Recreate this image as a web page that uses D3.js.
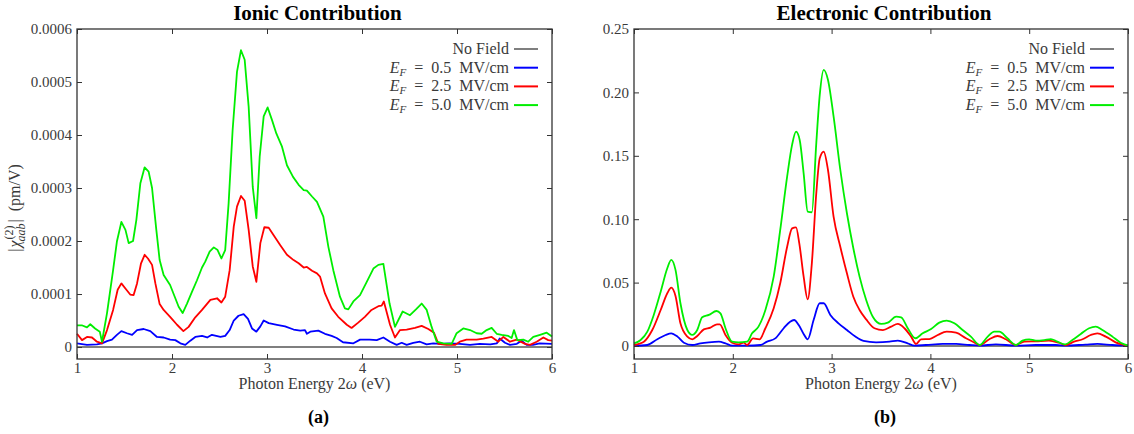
<!DOCTYPE html>
<html>
<head>
<meta charset="utf-8">
<script src="https://cdn.jsdelivr.net/npm/d3@7"></script>
<style>
  body { margin: 0; background: #fff; }
  svg text { font-family: "Liberation Serif", "Times New Roman", Times, "Nimbus Roman", "FreeSerif", "Noto Serif", "DejaVu Serif", serif !important; }
</style>
</head>
<body>
<svg id="chart" width="1134" height="434"></svg>
<script>
// DATA (energies in eV, chi values in pm/V)
const seriesNames = ['No Field', '0.5', '2.5', '5.0'];
const seriesColors = ['#555555', '#0000ff', '#ff0000', '#00ee00'];

// ionic contribution, [eV, value x 1e-6]
const ionicBlue = [[1.0,7],[1.105,4],[1.21,5],[1.263,7],[1.316,11],[1.368,14],[1.42,23],[1.467,30],[1.526,26],[1.58,23],[1.632,32],[1.702,34],[1.772,30],[1.842,19],[1.912,18],[1.98,14],[2.035,13],[2.088,7],[2.14,4],[2.193,12],[2.245,19],[2.316,21],[2.37,18],[2.42,23],[2.51,19],[2.56,21],[2.607,32],[2.65,50],[2.7,59],[2.754,62],[2.8,53],[2.842,35],[2.888,29],[2.93,39],[2.965,50],[3.018,45],[3.105,42],[3.19,39],[3.28,33],[3.35,31],[3.4,32],[3.42,25],[3.456,29],[3.54,31],[3.61,25],[3.68,21],[3.733,17],[3.8,9],[3.91,7],[3.98,14],[4.08,14],[4.155,13],[4.225,18],[4.295,10],[4.365,4],[4.418,8],[4.47,4],[4.54,8],[4.61,10],[4.68,5],[4.75,7],[4.82,6],[4.926,7],[5.03,6],[5.137,4],[5.24,6],[5.35,5],[5.42,7],[5.45,16],[5.505,8],[5.558,4],[5.63,6],[5.68,12],[5.733,4],[5.8,4],[5.87,7],[6.0,6]];
const ionicRed = [[1.0,25],[1.053,13],[1.105,19],[1.158,18],[1.21,10],[1.263,7],[1.316,32],[1.38,70],[1.428,108],[1.467,120],[1.52,108],[1.56,99],[1.596,98],[1.632,120],[1.674,158],[1.712,174],[1.747,167],[1.79,155],[1.825,120],[1.87,81],[1.912,70],[1.98,57],[2.053,42],[2.12,30],[2.175,38],[2.245,56],[2.316,70],[2.404,89],[2.474,92],[2.52,84],[2.56,95],[2.607,145],[2.65,227],[2.684,265],[2.726,285],[2.765,276],[2.807,221],[2.85,152],[2.888,123],[2.93,196],[2.972,226],[3.018,225],[3.07,211],[3.14,192],[3.21,174],[3.28,164],[3.333,158],[3.386,150],[3.42,151],[3.474,144],[3.526,139],[3.558,133],[3.61,101],[3.68,73],[3.75,57],[3.84,42],[3.89,36],[3.96,46],[4.03,57],[4.1,70],[4.172,77],[4.207,78],[4.23,86],[4.295,42],[4.347,18],[4.4,32],[4.47,33],[4.558,36],[4.628,40],[4.698,34],[4.758,27],[4.804,6],[4.89,4],[4.979,4],[5.03,10],[5.1,14],[5.207,14],[5.277,16],[5.365,19],[5.435,10],[5.488,19],[5.558,10],[5.628,14],[5.716,6],[5.768,4],[5.839,10],[5.909,18],[5.96,13],[6.0,12]];
const ionicGreen = [[1.0,41],[1.05,41],[1.105,37],[1.14,43],[1.19,35],[1.24,29],[1.263,10],[1.316,64],[1.38,145],[1.42,199],[1.467,236],[1.51,221],[1.544,196],[1.59,200],[1.625,240],[1.667,309],[1.712,339],[1.754,331],[1.79,300],[1.835,221],[1.87,164],[1.912,136],[1.98,117],[2.035,92],[2.07,76],[2.112,64],[2.158,82],[2.21,104],[2.263,126],[2.316,150],[2.35,161],[2.396,180],[2.44,188],[2.48,183],[2.52,167],[2.56,183],[2.596,271],[2.638,409],[2.684,519],[2.726,560],[2.765,542],[2.807,453],[2.85,302],[2.888,243],[2.923,359],[2.965,435],[3.007,452],[3.053,428],[3.098,403],[3.158,378],[3.21,343],[3.274,321],[3.333,306],[3.386,296],[3.42,295],[3.474,284],[3.526,274],[3.593,246],[3.646,189],[3.698,145],[3.768,95],[3.82,73],[3.856,71],[3.909,86],[3.979,98],[4.05,123],[4.12,148],[4.172,155],[4.225,157],[4.29,82],[4.347,38],[4.383,51],[4.428,67],[4.505,60],[4.568,71],[4.628,82],[4.681,70],[4.733,38],[4.786,10],[4.856,7],[4.944,6],[4.996,26],[5.066,35],[5.137,32],[5.207,26],[5.26,25],[5.312,32],[5.365,36],[5.418,25],[5.47,23],[5.54,21],[5.575,17],[5.6,32],[5.635,13],[5.698,14],[5.75,10],[5.803,19],[5.874,23],[5.944,27],[6.0,20]];

// electronic contribution, [eV, value]
const electronicBlue = [[1.0,0],[1.135,0.0008],[1.236,0.0053],[1.32,0.0087],[1.377,0.010],[1.44,0.0074],[1.505,0.0026],[1.59,0.0008],[1.673,0.0021],[1.758,0.0029],[1.86,0.0034],[1.926,0.0021],[1.993,0.0003],[2.145,0.0003],[2.28,0.0008],[2.347,0.0034],[2.43,0.006],[2.515,0.014],[2.58,0.0192],[2.62,0.0205],[2.667,0.0166],[2.717,0.0095],[2.758,0.0053],[2.818,0.0205],[2.88,0.0337],[2.92,0.0337],[2.987,0.0245],[3.07,0.0179],[3.155,0.0126],[3.24,0.0074],[3.323,0.004],[3.45,0.0029],[3.586,0.0034],[3.67,0.0042],[3.77,0.0021],[3.838,0.0003],[3.956,0.0008],[4.125,0.0016],[4.26,0.0016],[4.394,0.0008],[4.5,0.0003],[4.663,0.0013],[4.865,0.0003],[5.068,0.0008],[5.27,0.0008],[5.37,0.0003],[5.57,0.0011],[5.69,0.0016],[5.842,0.0008],[6.0,0.0003]];
const electronicRed = [[1.0,0.0008],[1.1,0.0034],[1.185,0.0126],[1.27,0.0284],[1.337,0.0416],[1.377,0.046],[1.42,0.0395],[1.47,0.0179],[1.54,0.0074],[1.59,0.0053],[1.64,0.0079],[1.707,0.0131],[1.774,0.0145],[1.84,0.0171],[1.868,0.0171],[1.926,0.0087],[1.993,0.0026],[2.06,0.0013],[2.11,0.0026],[2.145,0.0008],[2.205,0.006],[2.27,0.0053],[2.33,0.014],[2.414,0.0297],[2.48,0.0495],[2.55,0.0783],[2.6,0.0928],[2.64,0.0936],[2.673,0.081],[2.717,0.0547],[2.758,0.0368],[2.8,0.0652],[2.845,0.1205],[2.88,0.148],[2.92,0.1533],[2.963,0.139],[3.02,0.102],[3.088,0.0783],[3.155,0.0573],[3.22,0.0389],[3.283,0.0284],[3.35,0.021],[3.434,0.014],[3.52,0.0126],[3.603,0.0153],[3.67,0.0174],[3.737,0.014],[3.805,0.0074],[3.855,0.0016],[3.905,0.0053],[3.99,0.0055],[4.074,0.0087],[4.165,0.0113],[4.26,0.0105],[4.36,0.0061],[4.444,0.0029],[4.5,0.0008],[4.596,0.0053],[4.68,0.0079],[4.764,0.0053],[4.865,0.0008],[4.95,0.0034],[5.068,0.0037],[5.2,0.0042],[5.3,0.0026],[5.37,0.0008],[5.454,0.0034],[5.54,0.0053],[5.623,0.0087],[5.69,0.010],[5.775,0.0074],[5.875,0.0029],[6.0,0.0003]];
const electronicGreen = [[1.0,0.0021],[1.067,0.0047],[1.135,0.0113],[1.2,0.0245],[1.27,0.0428],[1.337,0.0613],[1.377,0.0679],[1.42,0.060],[1.47,0.0337],[1.54,0.0126],[1.59,0.0087],[1.64,0.0126],[1.69,0.0226],[1.758,0.0245],[1.835,0.0276],[1.875,0.0258],[1.926,0.014],[1.993,0.0034],[2.06,0.0029],[2.145,0.0034],[2.195,0.010],[2.26,0.0153],[2.33,0.0284],[2.414,0.0547],[2.48,0.0915],[2.55,0.1336],[2.6,0.1586],[2.64,0.169],[2.677,0.1625],[2.717,0.1362],[2.758,0.106],[2.8,0.1055],[2.845,0.160],[2.88,0.198],[2.92,0.2178],[2.963,0.210],[3.02,0.181],[3.088,0.139],[3.155,0.1047],[3.22,0.0771],[3.283,0.0547],[3.35,0.0363],[3.417,0.0231],[3.502,0.0174],[3.569,0.0184],[3.653,0.0231],[3.704,0.0226],[3.771,0.014],[3.848,0.0061],[3.922,0.010],[4.007,0.0134],[4.09,0.0184],[4.165,0.020],[4.243,0.0179],[4.326,0.0126],[4.41,0.0074],[4.5,0.0008],[4.58,0.0074],[4.646,0.0113],[4.697,0.0113],[4.78,0.0061],[4.865,0.0008],[4.932,0.0042],[5.0,0.0053],[5.068,0.0042],[5.152,0.0047],[5.219,0.0055],[5.286,0.0034],[5.364,0.0013],[5.437,0.0047],[5.522,0.0095],[5.606,0.014],[5.673,0.0153],[5.741,0.0126],[5.842,0.0074],[5.926,0.0026],[6.0,0.0003]];

// tick labels
const xTicks = [1, 2, 3, 4, 5, 6];
const ionicYTicks = [0, 0.0001, 0.0002, 0.0003, 0.0004, 0.0005, 0.0006];
const electronicYTicks = [0, 0.05, 0.10, 0.15, 0.20, 0.25];

const svg = d3.select('#chart');
const textColor = '#3a3a3a';
const frameColor = '#333';

// draws one panel
function drawPanel(opt){
	const x = d3.scaleLinear().domain([1, 6]).range([opt.left, opt.right]);
	const y = d3.scaleLinear().domain(opt.yDomain).range([opt.bottom, opt.top]);
	const g = svg.append('g');

	// title
	g.append('text')
		.attr('x', (opt.left + opt.right) / 2 + 3)
		.attr('y', 20)
		.attr('text-anchor', 'middle')
		.attr('font-size', '21px')
		.attr('font-weight', 'bold')
		.attr('fill', '#000')
		.text(opt.title);

	// no field line at zero
	g.append('line')
		.attr('x1', opt.left).attr('x2', opt.right)
		.attr('y1', y(0)).attr('y2', y(0))
		.attr('stroke', seriesColors[0])
		.attr('stroke-width', 1.5);

	// series lines
	const line = d3.line()
		.x(d => x(d[0]))
		.y(d => y(d[1] * opt.unit))
		.curve(opt.curve);

	opt.series.forEach(function(s, i){
		g.append('path')
			.datum(s)
			.attr('d', line)
			.attr('fill', 'none')
			.attr('stroke', seriesColors[i + 1])
			.attr('stroke-width', 1.8)
			.attr('stroke-linejoin', 'round');
	});

	// axes with inward ticks
	g.append('g')
		.attr('transform', 'translate(0,' + opt.bottom + ')')
		.call(d3.axisBottom(x).tickValues(xTicks).tickSize(-5).tickSizeOuter(0).tickPadding(3).tickFormat(d3.format('d')));
	g.append('g')
		.attr('transform', 'translate(0,' + opt.top + ')')
		.call(d3.axisTop(x).tickValues(xTicks).tickSize(-5).tickSizeOuter(0).tickFormat(''));
	g.append('g')
		.attr('transform', 'translate(' + opt.left + ',0)')
		.call(d3.axisLeft(y).tickValues(opt.yTicks).tickSize(-5).tickSizeOuter(0).tickPadding(5).tickFormat(opt.yFormat));
	g.append('g')
		.attr('transform', 'translate(' + opt.right + ',0)')
		.call(d3.axisRight(y).tickValues(opt.yTicks).tickSize(-5).tickSizeOuter(0).tickFormat(''));

	g.selectAll('.domain').remove();
	g.selectAll('.tick line').attr('stroke', frameColor);
	g.selectAll('.tick text')
		.attr('font-family', null)
		.attr('font-size', '15px')
		.attr('fill', textColor);

	// frame
	g.append('rect')
		.attr('x', opt.left).attr('y', opt.top)
		.attr('width', opt.right - opt.left)
		.attr('height', opt.bottom - opt.top)
		.attr('fill', 'none')
		.attr('stroke', frameColor)
		.attr('stroke-width', 1.3);

	// x label
	const xl = g.append('text')
		.attr('x', (opt.left + opt.right) / 2)
		.attr('y', 389)
		.attr('text-anchor', 'middle')
		.attr('font-size', '16px')
		.attr('fill', textColor);
	xl.append('tspan').text('Photon Energy 2');
	xl.append('tspan').attr('font-style', 'italic').text('ω');
	xl.append('tspan').text(' (eV)');

	// panel letter
	g.append('text')
		.attr('x', (opt.left + opt.right) / 2 + 4)
		.attr('y', 423)
		.attr('text-anchor', 'middle')
		.attr('font-size', '18px')
		.attr('font-weight', 'bold')
		.attr('fill', '#000')
		.text(opt.letter);

	// legend
	const legRight = opt.right - 14;
	seriesNames.forEach(function(name, i){
		const ly = 49 + i * 18.7;
		g.append('line')
			.attr('x1', legRight - 24).attr('x2', legRight)
			.attr('y1', ly).attr('y2', ly)
			.attr('stroke', seriesColors[i])
			.attr('stroke-width', i == 0 ? 1.5 : 2);
		const t = g.append('text')
			.attr('x', legRight - 29)
			.attr('y', ly + 5)
			.attr('text-anchor', 'end')
			.attr('font-size', '16px')
			.attr('fill', textColor);
		if(i == 0){
			t.text(name);
		}
		else{
			t.append('tspan').attr('font-style', 'italic').text('E');
			t.append('tspan').attr('font-style', 'italic').attr('font-size', '11px').attr('dy', 3).text('F');
			t.append('tspan').attr('dy', -3).text('\u2002=\u2002' + name + '\u00a0\u00a0MV/cm');
		}
	});

	// y label (ionic only)
	if(opt.yLabel){
		const yl = g.append('text')
			.attr('transform', 'translate(20,' + ((opt.top + opt.bottom) / 2 + 14) + ') rotate(-90)')
			.attr('text-anchor', 'middle')
			.attr('font-size', '16px')
			.attr('fill', textColor);
		yl.append('tspan').text('|');
		yl.append('tspan').attr('font-style', 'italic').attr('dx', 1).text('χ');
		yl.append('tspan').attr('font-size', '12px').attr('dx', 1).attr('dy', -7).text('(2)');
		yl.append('tspan').attr('font-size', '12px').attr('font-style', 'italic').attr('dx', -16).attr('dy', 12).text('aab');
		yl.append('tspan').attr('dx', 1).attr('dy', -5).text('|\u2002(pm/V)');
	}
}

drawPanel({
	title: 'Ionic Contribution',
	letter: '(a)',
	left: 77, right: 552, top: 29, bottom: 359,
	yDomain: [-0.0000226, 0.0006],
	yTicks: ionicYTicks,
	yFormat: d => d === 0 ? '0' : d.toFixed(4),
	unit: 1e-6,
	curve: d3.curveLinear,
	series: [ionicBlue, ionicRed, ionicGreen],
	yLabel: true
});

drawPanel({
	title: 'Electronic Contribution',
	letter: '(b)',
	left: 634, right: 1128, top: 29, bottom: 359,
	yDomain: [-0.01025, 0.25],
	yTicks: electronicYTicks,
	yFormat: d => d === 0 ? '0' : d.toFixed(2),
	unit: 1,
	curve: d3.curveMonotoneX,
	series: [electronicBlue, electronicRed, electronicGreen],
	yLabel: false
});
</script>
</body>
</html>
